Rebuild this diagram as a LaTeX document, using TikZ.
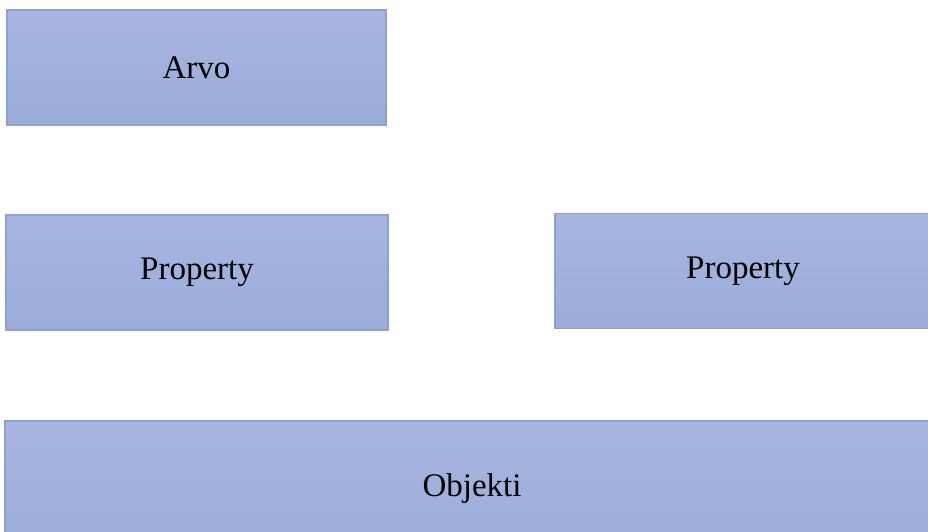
\documentclass[tikz,border=0pt]{standalone}
\usepackage{fontspec}
\setmainfont{Liberation Serif}
\usepackage{tikz}
\definecolor{boxtop}{HTML}{A8B6E0}
\definecolor{boxbot}{HTML}{9AACD9}
\definecolor{boxedge}{HTML}{8DA1D6}
\begin{document}
\begin{tikzpicture}[x=1pt,y=-1pt,
    box/.style={draw=boxedge, line width=1.2pt, top color=boxtop, bottom color=boxbot,
      inner sep=0pt, minimum height=115pt, font=\fontsize{33}{39}\selectfont}]
        \useasboundingbox (0,0) rectangle (928,531);
        \clip (0,0) rectangle (928,531);
        \coordinate (A) at (196.5,67.5);
        \coordinate (L) at (197,272.5);
        \coordinate (R) at (743,271);
        \coordinate (O) at (472,489);
        \node [box, minimum width=379pt] (arvo) at (A) {Arvo};
        \node [box, minimum width=382pt] (propL) at (L) {Property};
        \node [box, minimum width=376pt] (propR) at (R) {Property};
        \node [box, minimum width=934pt, minimum height=136pt] (objekti) at (O) {Objekti};
    \end{tikzpicture}
\end{document}
